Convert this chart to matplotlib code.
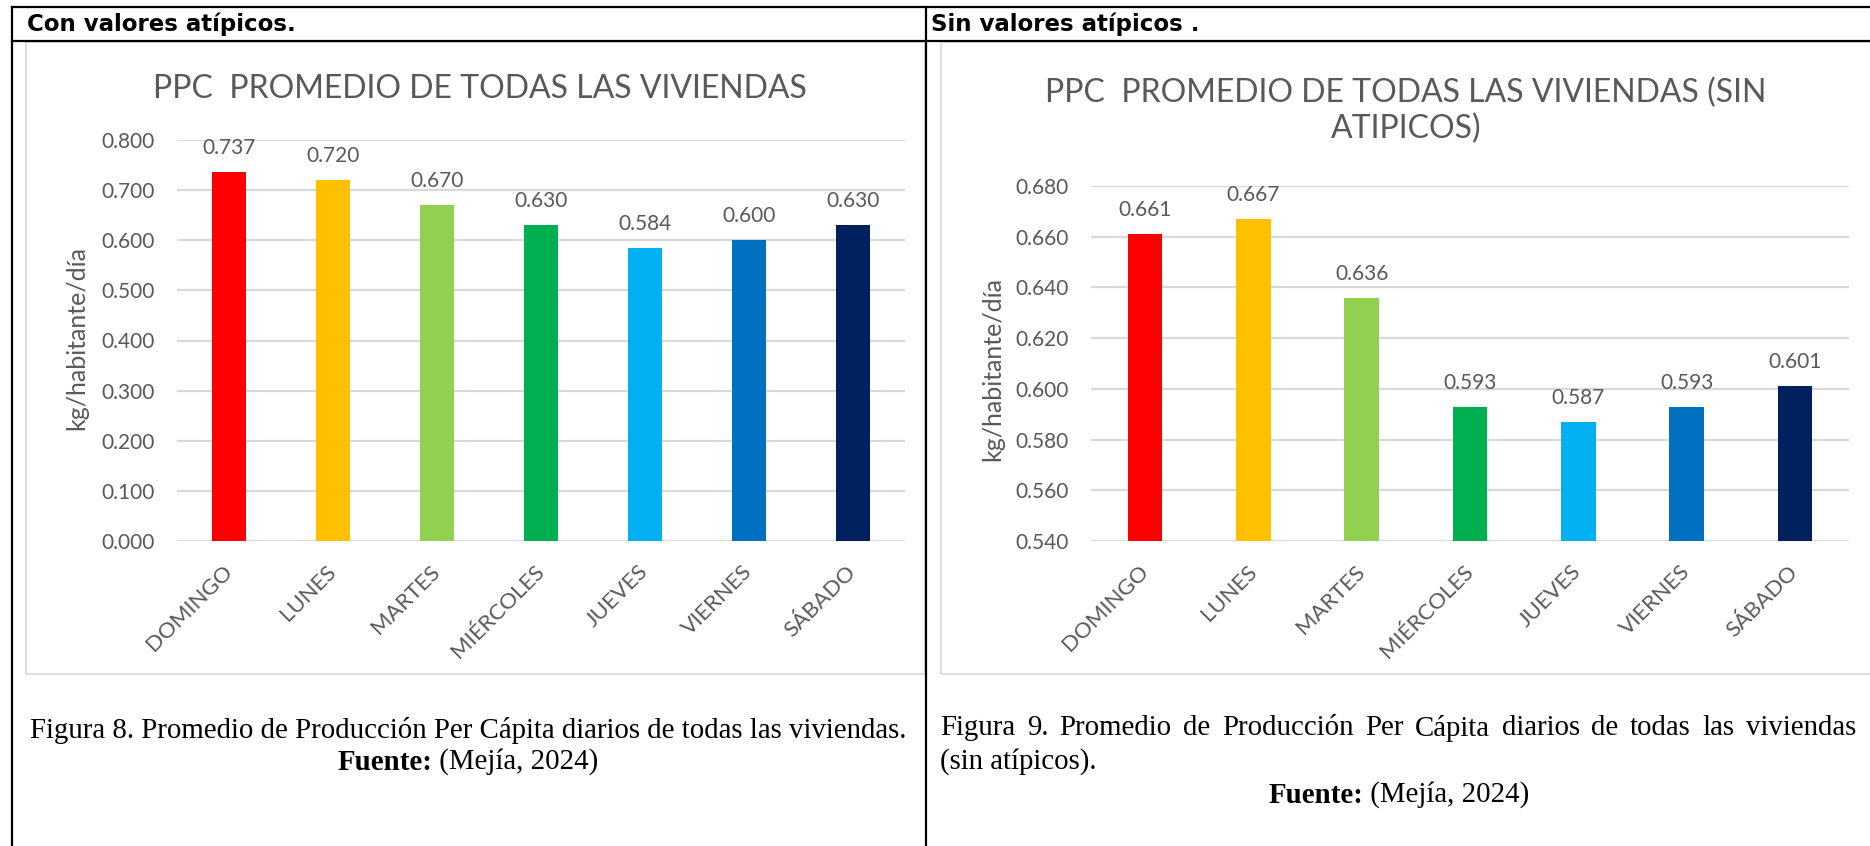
import matplotlib
matplotlib.use("Agg")
import matplotlib.pyplot as plt
from matplotlib.lines import Line2D
from matplotlib.patches import Rectangle

# ====================== DATA ======================
dias = ['DOMINGO', 'LUNES', 'MARTES', 'MIÉRCOLES', 'JUEVES', 'VIERNES', 'SÁBADO']
ppc_con_atipicos = [0.737, 0.720, 0.670, 0.630, 0.584, 0.600, 0.630]
ppc_sin_atipicos = [0.661, 0.667, 0.636, 0.593, 0.587, 0.593, 0.601]
colores = ['#FF0000', '#FFC000', '#92D050', '#00B050', '#00B0F0', '#0070C0', '#002060']

ticks_con = [0.0, 0.1, 0.2, 0.3, 0.4, 0.5, 0.6, 0.7, 0.8]
ticks_sin = [0.54, 0.56, 0.58, 0.60, 0.62, 0.64, 0.66, 0.68]

titulo_con = 'PPC  PROMEDIO DE TODAS LAS VIVIENDAS'
titulo_sin = 'PPC  PROMEDIO DE TODAS LAS VIVIENDAS (SIN\nATIPICOS)'
ylabel = 'kg/habitante/día'

# ====================== FIGURE ======================
W, H = 1870, 846
fig = plt.figure(figsize=(W / 100, H / 100), dpi=100)
fig.patch.set_facecolor('white')

GREY_TXT = '#595959'
GRID = '#D9D9D9'
CHART_FONT = 'Lato'
SERIF = 'Liberation Serif'
TICK_FS = 15


def fx(x):
    return x / W


def fy(y):
    return 1 - y / H


def box(x0, y0, x1, y1):
    return [fx(x0), fy(y1), (x1 - x0) / W, (y1 - y0) / H]


# table lines
for (x0, y0, x1, y1) in [(12, 7, 1870, 7), (12, 41, 1870, 41),
                         (12, 7, 12, 846), (926, 7, 926, 846)]:
    fig.add_artist(Line2D([fx(x0), fx(x1)], [fy(y0), fy(y1)], color='black', lw=1.6))

# chart frames
for (x0, y0, x1, y1) in [(26, 42, 925, 674), (941, 42, 1872, 674)]:
    fig.add_artist(Rectangle((fx(x0), fy(y1)), (x1 - x0) / W, (y1 - y0) / H,
                             transform=fig.transFigure, fill=False, ec=GRID, lw=1.2))

# header texts
fig.text(fx(27), fy(24), 'Con valores atípicos.', fontsize=16.5, fontweight='bold',
         family='DejaVu Sans', va='center', ha='left')
fig.text(fx(931), fy(24), 'Sin valores atípicos .', fontsize=16.5, fontweight='bold',
         family='DejaVu Sans', va='center', ha='left')


def dibujar(rect, valores, ticks, titulo, title_xy, ylab_xy):
    ax = fig.add_axes(rect)
    x = range(len(dias))
    bars = ax.bar(x, valores, width=0.32, color=colores, zorder=3)
    ax.bar_label(bars, labels=[f'{v:.3f}' for v in valores], padding=10,
                 fontsize=TICK_FS, color=GREY_TXT, family=CHART_FONT)
    ax.set_ylim(ticks[0], ticks[-1])
    ax.set_xlim(-0.5, len(dias) - 0.5)
    ax.set_yticks(ticks)
    ax.set_yticklabels([f'{t:.3f}' for t in ticks], family=CHART_FONT, fontsize=TICK_FS,
                       color=GREY_TXT)
    ax.set_xticks(list(x))
    ax.set_xticklabels(dias, rotation=45, ha='right', va='center', rotation_mode='anchor',
                       family=CHART_FONT, fontsize=16, color=GREY_TXT)
    ax.tick_params(axis='both', length=0)
    ax.tick_params(axis='y', pad=16)
    ax.tick_params(axis='x', pad=20)
    for s in ax.spines.values():
        s.set_visible(False)
    ax.yaxis.grid(True, color=GRID, lw=1.6, zorder=0)
    ax.set_axisbelow(True)
    fig.text(fx(ylab_xy[0]), fy(ylab_xy[1]), ylabel, rotation=90, ha='center', va='center',
             family=CHART_FONT, fontsize=18, color=GREY_TXT)
    fig.text(fx(title_xy[0]), fy(title_xy[1]), titulo, ha='center', va='center',
             family=CHART_FONT, fontsize=23, color=GREY_TXT, linespacing=1.25)
    return ax


dibujar(box(177, 140, 905, 541), ppc_con_atipicos, ticks_con, titulo_con, (480, 89),
        (77, 338))
dibujar(box(1091, 186, 1849, 541), ppc_sin_atipicos, ticks_sin, titulo_sin, (1406, 111),
        (993, 369))

# ====================== CAPTIONS ======================
renderer = fig.canvas.get_renderer()
CAP_FS = 20.8


def ancho(t):
    return t.get_window_extent(renderer).width


def fuente(cx, y):
    b = fig.text(0, fy(y), 'Fuente:', fontsize=CAP_FS, family=SERIF, fontweight='bold',
                 va='center', ha='left')
    r = fig.text(0, fy(y), ' (Mejía, 2024)', fontsize=CAP_FS, family=SERIF,
                 va='center', ha='left')
    wb, wr = ancho(b), ancho(r)
    x0 = cx - (wb + wr) / 2
    b.set_x(fx(x0))
    r.set_x(fx(x0 + wb))


def justificado(texto, x0, x1, y):
    palabras = texto.split(' ')
    objs = [fig.text(0, fy(y), p, fontsize=CAP_FS, family=SERIF, va='center', ha='left')
            for p in palabras]
    anchos = [ancho(o) for o in objs]
    gap = (x1 - x0 - sum(anchos)) / (len(objs) - 1)
    x = x0
    for o, w in zip(objs, anchos):
        o.set_x(fx(x))
        x += w + gap


fig.text(fx(468), fy(730), 'Figura 8. Promedio de Producción Per Cápita diarios de todas las viviendas.',
         fontsize=CAP_FS, family=SERIF, ha='center', va='center')
fuente(468, 762)

justificado('Figura 9. Promedio de Producción Per Cápita diarios de todas las viviendas',
            940, 1856, 728)
fig.text(fx(940), fy(762), '(sin atípicos).', fontsize=CAP_FS, family=SERIF,
         ha='left', va='center')
fuente(1399, 795)

fig.savefig('out.png', dpi=100)
